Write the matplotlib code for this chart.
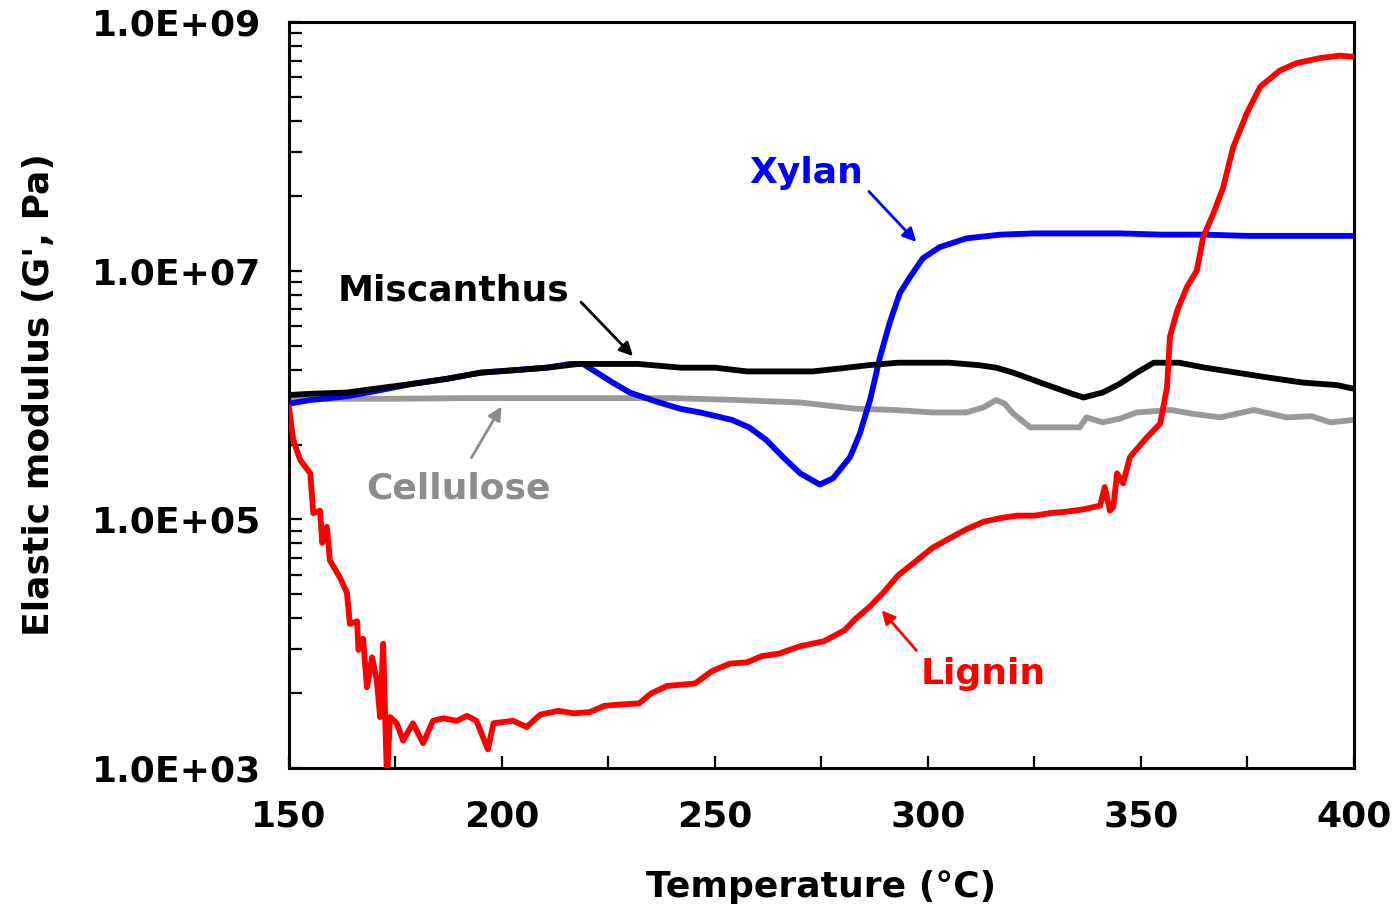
import numpy as np
import matplotlib.pyplot as plt
from matplotlib.ticker import FixedLocator, FixedFormatter

plt.rcParams['font.family'] = 'DejaVu Sans'
plt.rcParams['font.weight'] = 'bold'

# ============================
# DATA (log10 of G', Pa)
# ============================

misc_T = [150, 155, 163.6, 170, 179, 187, 195, 203, 210.5, 218, 225, 232, 242, 250,
          257.5, 265, 273, 281, 286, 293, 300, 305, 312, 316, 320, 324, 328, 333,
          336.5, 341, 345, 349, 353, 359, 365, 372.5, 380, 388, 396, 400]
misc_logG = [6.00, 6.01, 6.02, 6.05, 6.09, 6.13, 6.18, 6.20, 6.22, 6.25, 6.25, 6.25, 6.22, 6.22,
             6.19, 6.19, 6.19, 6.22, 6.24, 6.26, 6.26, 6.26, 6.24, 6.22, 6.18, 6.13, 6.08, 6.02,
             5.98, 6.02, 6.09, 6.18, 6.26, 6.26, 6.22, 6.18, 6.14, 6.10, 6.08, 6.05]

cell_T = [150, 160, 175, 190, 205, 220, 240, 255, 270, 283, 292, 301, 309, 313, 316, 318,
          320, 324, 330, 335.6, 337.2, 341, 345, 349, 357, 362, 368.6, 376.5, 384.2, 390,
          394.5, 400]
cell_logG = [5.96, 5.97, 5.97, 5.975, 5.975, 5.975, 5.975, 5.96, 5.94, 5.89, 5.88, 5.86, 5.86, 5.90, 5.96, 5.93,
             5.85, 5.74, 5.74, 5.74, 5.82, 5.78, 5.81, 5.86, 5.88, 5.85, 5.82, 5.88, 5.82, 5.83,
             5.78, 5.80]

xyl_T = [150, 155, 163.6, 170, 179, 187, 195, 203, 210.5, 216, 219, 222.3, 226, 230, 236,
         241.8, 246.5, 254, 258, 262, 266, 270, 274.6, 277.7, 281.7, 284, 286.4, 288.7,
         291, 293.4, 295.8, 298.8, 302.8, 309, 317, 325, 335, 345, 355, 365, 375, 385,
         395, 400]
xyl_logG = [5.93, 5.96, 5.99, 6.03, 6.09, 6.13, 6.18, 6.20, 6.22, 6.25, 6.25, 6.18, 6.10, 6.02, 5.95,
            5.89, 5.86, 5.80, 5.74, 5.64, 5.50, 5.37, 5.28, 5.33, 5.50, 5.69, 5.96, 6.30,
            6.58, 6.82, 6.95, 7.10, 7.19, 7.26, 7.29, 7.30, 7.30, 7.30, 7.29, 7.29, 7.28, 7.28,
            7.28, 7.28]

lig_T = [150, 151, 152.6, 155, 155.7, 157.3, 157.8, 158.9, 159.6, 162, 163.6, 164.3, 166,
         166.3, 167.4, 168.3, 169.5, 170.6, 171.4, 172.1, 173, 173.7, 175.3, 176.8, 179.1,
         181.5, 183.8, 186.2, 189.4, 191.8, 194, 196.7, 198, 202.6, 205.8, 209, 213.2,
         217, 220.6, 224, 227.2, 232.2, 235, 238.7, 245.3, 249.3, 253.5, 257.5, 261, 265,
         270, 275.6, 280.5, 283, 286.4, 289.5, 293, 297.4, 301, 305.2, 309, 313, 317,
         320.9, 325, 328.6, 332, 336.4, 340.4, 341.5, 342.7, 343.5, 344.4, 345.8, 347.4,
         351.4, 354.5, 356.1, 356.8, 358.5, 360.8, 363.1, 364.6, 367, 369.3, 371.6, 374.9,
         378, 382.6, 386.6, 392, 396.7, 400]
lig_logG = [5.90, 5.64, 5.48, 5.37, 5.05, 5.07, 4.81, 4.94, 4.67, 4.53, 4.41, 4.16, 4.18,
            3.95, 4.04, 3.65, 3.89, 3.71, 3.41, 4.00, 2.90, 3.41, 3.36, 3.22, 3.36,
            3.20, 3.38, 3.40, 3.38, 3.42, 3.38, 3.15, 3.36, 3.38, 3.33, 3.43, 3.46,
            3.44, 3.45, 3.50, 3.51, 3.52, 3.60, 3.66, 3.68, 3.78, 3.84, 3.85, 3.90, 3.92,
            3.98, 4.02, 4.11, 4.20, 4.30, 4.41, 4.55, 4.67, 4.77, 4.85, 4.92, 4.98, 5.01,
            5.03, 5.03, 5.05, 5.06, 5.08, 5.11, 5.26, 5.07, 5.10, 5.37, 5.29, 5.50,
            5.66, 5.77, 6.06, 6.47, 6.68, 6.87, 7.00, 7.27, 7.46, 7.67, 7.99, 8.27,
            8.48, 8.61, 8.67, 8.71, 8.73, 8.72]

x_ticks = [150, 200, 250, 300, 350, 400]
y_ticks = [1e3, 1e5, 1e7, 1e9]
y_labels = ['1.0E+03', '1.0E+05', '1.0E+07', '1.0E+09']

FS = 26

# ============================
# FIGURE
# ============================

fig = plt.figure(figsize=(13.94, 9.10), dpi=100)
ax = fig.add_axes([0.2073, 0.1560, 0.7640, 0.8198])

ax.plot(cell_T, 10 ** np.array(cell_logG), color='#999999', lw=4.2, zorder=2)
ax.plot(xyl_T, 10 ** np.array(xyl_logG), color='#0000ff', lw=4.2, zorder=3)
ax.plot(misc_T, 10 ** np.array(misc_logG), color='black', lw=4.2, zorder=4)
ax.plot(lig_T, 10 ** np.array(lig_logG), color='#ff0000', lw=4.2, zorder=5)

ax.set_yscale('log')
ax.set_xlim(150, 400)
ax.set_ylim(1e3, 1e9)

ax.yaxis.set_major_locator(FixedLocator(y_ticks))
ax.yaxis.set_major_formatter(FixedFormatter(y_labels))
minor_y = []
for lo in [3, 5, 7]:
    top = 10.0 ** (lo + 2)
    minor_y += [top * (k / 10) ** 2 for k in range(2, 10)]
ax.yaxis.set_minor_locator(FixedLocator(minor_y))
ax.yaxis.set_minor_formatter(FixedFormatter([''] * len(minor_y)))

ax.set_xticks(x_ticks)
ax.set_xticks(np.arange(175, 400, 50), minor=True)

for s in ax.spines.values():
    s.set_linewidth(2.2)

ax.tick_params(axis='both', which='both', direction='in', top=False, right=False,
               width=1.6)
ax.tick_params(axis='both', which='major', length=9, labelsize=FS)
ax.tick_params(axis='both', which='minor', length=9)
ax.tick_params(axis='x', which='major', pad=23)
ax.tick_params(axis='y', which='major', pad=20)

ax.set_xlabel('Temperature (°C)', fontsize=FS, fontweight='bold', labelpad=26)
ax.set_ylabel("Elastic modulus (G', Pa)", fontsize=FS, fontweight='bold', labelpad=26)

# ============================
# ANNOTATIONS
# ============================

ax.text(271.4, 6.1e7, 'Xylan', color='#0000ff', fontsize=FS, fontweight='bold',
        ha='center', va='center')
ax.annotate('', xy=(297.7, 1.64e7), xytext=(285.7, 4.5e7),
            arrowprops=dict(arrowstyle='-|>', color='#0000ff', lw=2, mutation_scale=20))

ax.text(188.7, 6.9e6, 'Miscanthus', color='black', fontsize=FS, fontweight='bold',
        ha='center', va='center')
ax.annotate('', xy=(231.2, 1.98e6), xytext=(218.1, 5.8e6),
            arrowprops=dict(arrowstyle='-|>', color='black', lw=2, mutation_scale=20))

ax.text(189.9, 1.78e5, 'Cellulose', color='#8c8c8c', fontsize=FS, fontweight='bold',
        ha='center', va='center')
ax.annotate('', xy=(200.2, 8.45e5), xytext=(192.5, 3.0e5),
            arrowprops=dict(arrowstyle='-|>', color='#8c8c8c', lw=2, mutation_scale=20))

ax.text(312.9, 5.7e3, 'Lignin', color='#ff0000', fontsize=FS, fontweight='bold',
        ha='center', va='center')
ax.annotate('', xy=(288.7, 1.93e4), xytext=(297.7, 8.5e3),
            arrowprops=dict(arrowstyle='-|>', color='#ff0000', lw=2, mutation_scale=20))

fig.savefig('out.png', dpi=100)
